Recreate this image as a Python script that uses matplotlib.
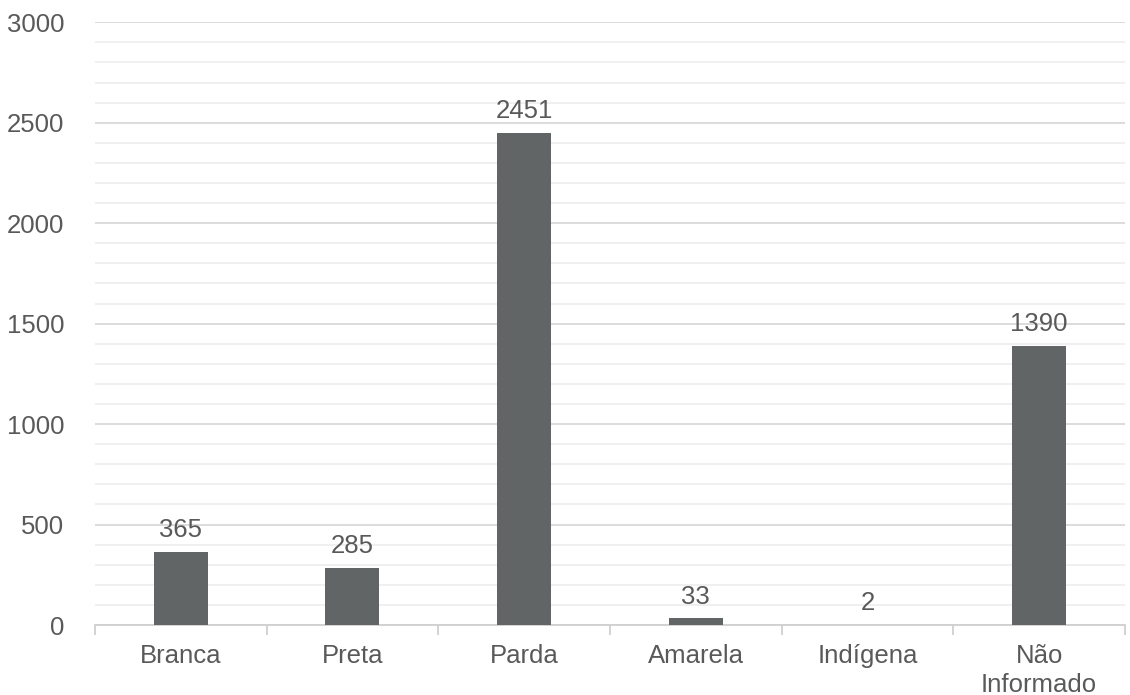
import matplotlib
matplotlib.use('Agg')
from matplotlib import pyplot as plt
from matplotlib.ticker import MultipleLocator, FixedLocator

categorias = ['Branca', 'Preta', 'Parda', 'Amarela', 'Indígena', 'Não\nInformado']
valores = [365, 285, 2451, 33, 2, 1390]

plt.rcParams['font.family'] = ['Liberation Sans', 'DejaVu Sans']
cor_texto = '#595959'

fig = plt.figure(figsize=(11.3, 6.95), dpi=100)
ax = fig.add_axes([0.084, 0.1007, 0.9116, 0.8673])

x = list(range(len(categorias)))
ax.bar(x, valores, width=0.315, color='#626566', zorder=3)

for xi, v in zip(x, valores):
    ax.annotate(str(v), (xi, v), xytext=(0, 7), textcoords='offset points',
                ha='center', va='bottom', fontsize=18.5, color=cor_texto)

ax.set_xlim(-0.5, len(categorias) - 0.5)
ax.set_ylim(0, 3000)
ax.yaxis.set_major_locator(MultipleLocator(500))
ax.yaxis.set_minor_locator(MultipleLocator(100))
ax.grid(axis='y', which='major', color='#d9d9d9', lw=1.3, zorder=0)
ax.grid(axis='y', which='minor', color='#eeeeee', lw=1.2, zorder=0)

ax.set_xticks(x)
ax.set_xticklabels(categorias, fontsize=18.5, color=cor_texto, linespacing=1.25)
ax.xaxis.set_minor_locator(FixedLocator([i - 0.5 for i in range(len(categorias) + 1)]))
ax.tick_params(axis='x', which='major', length=0, pad=14)
ax.tick_params(axis='x', which='minor', length=7, color='#d0d0d0', width=1.3)
ax.tick_params(axis='y', which='both', length=0, labelsize=18.5, labelcolor=cor_texto, pad=22)

for s in ['top', 'right', 'left']:
    ax.spines[s].set_visible(False)
ax.spines['bottom'].set_color('#d0d0d0')
ax.spines['bottom'].set_linewidth(1.3)

plt.savefig('out.png', dpi=100)
